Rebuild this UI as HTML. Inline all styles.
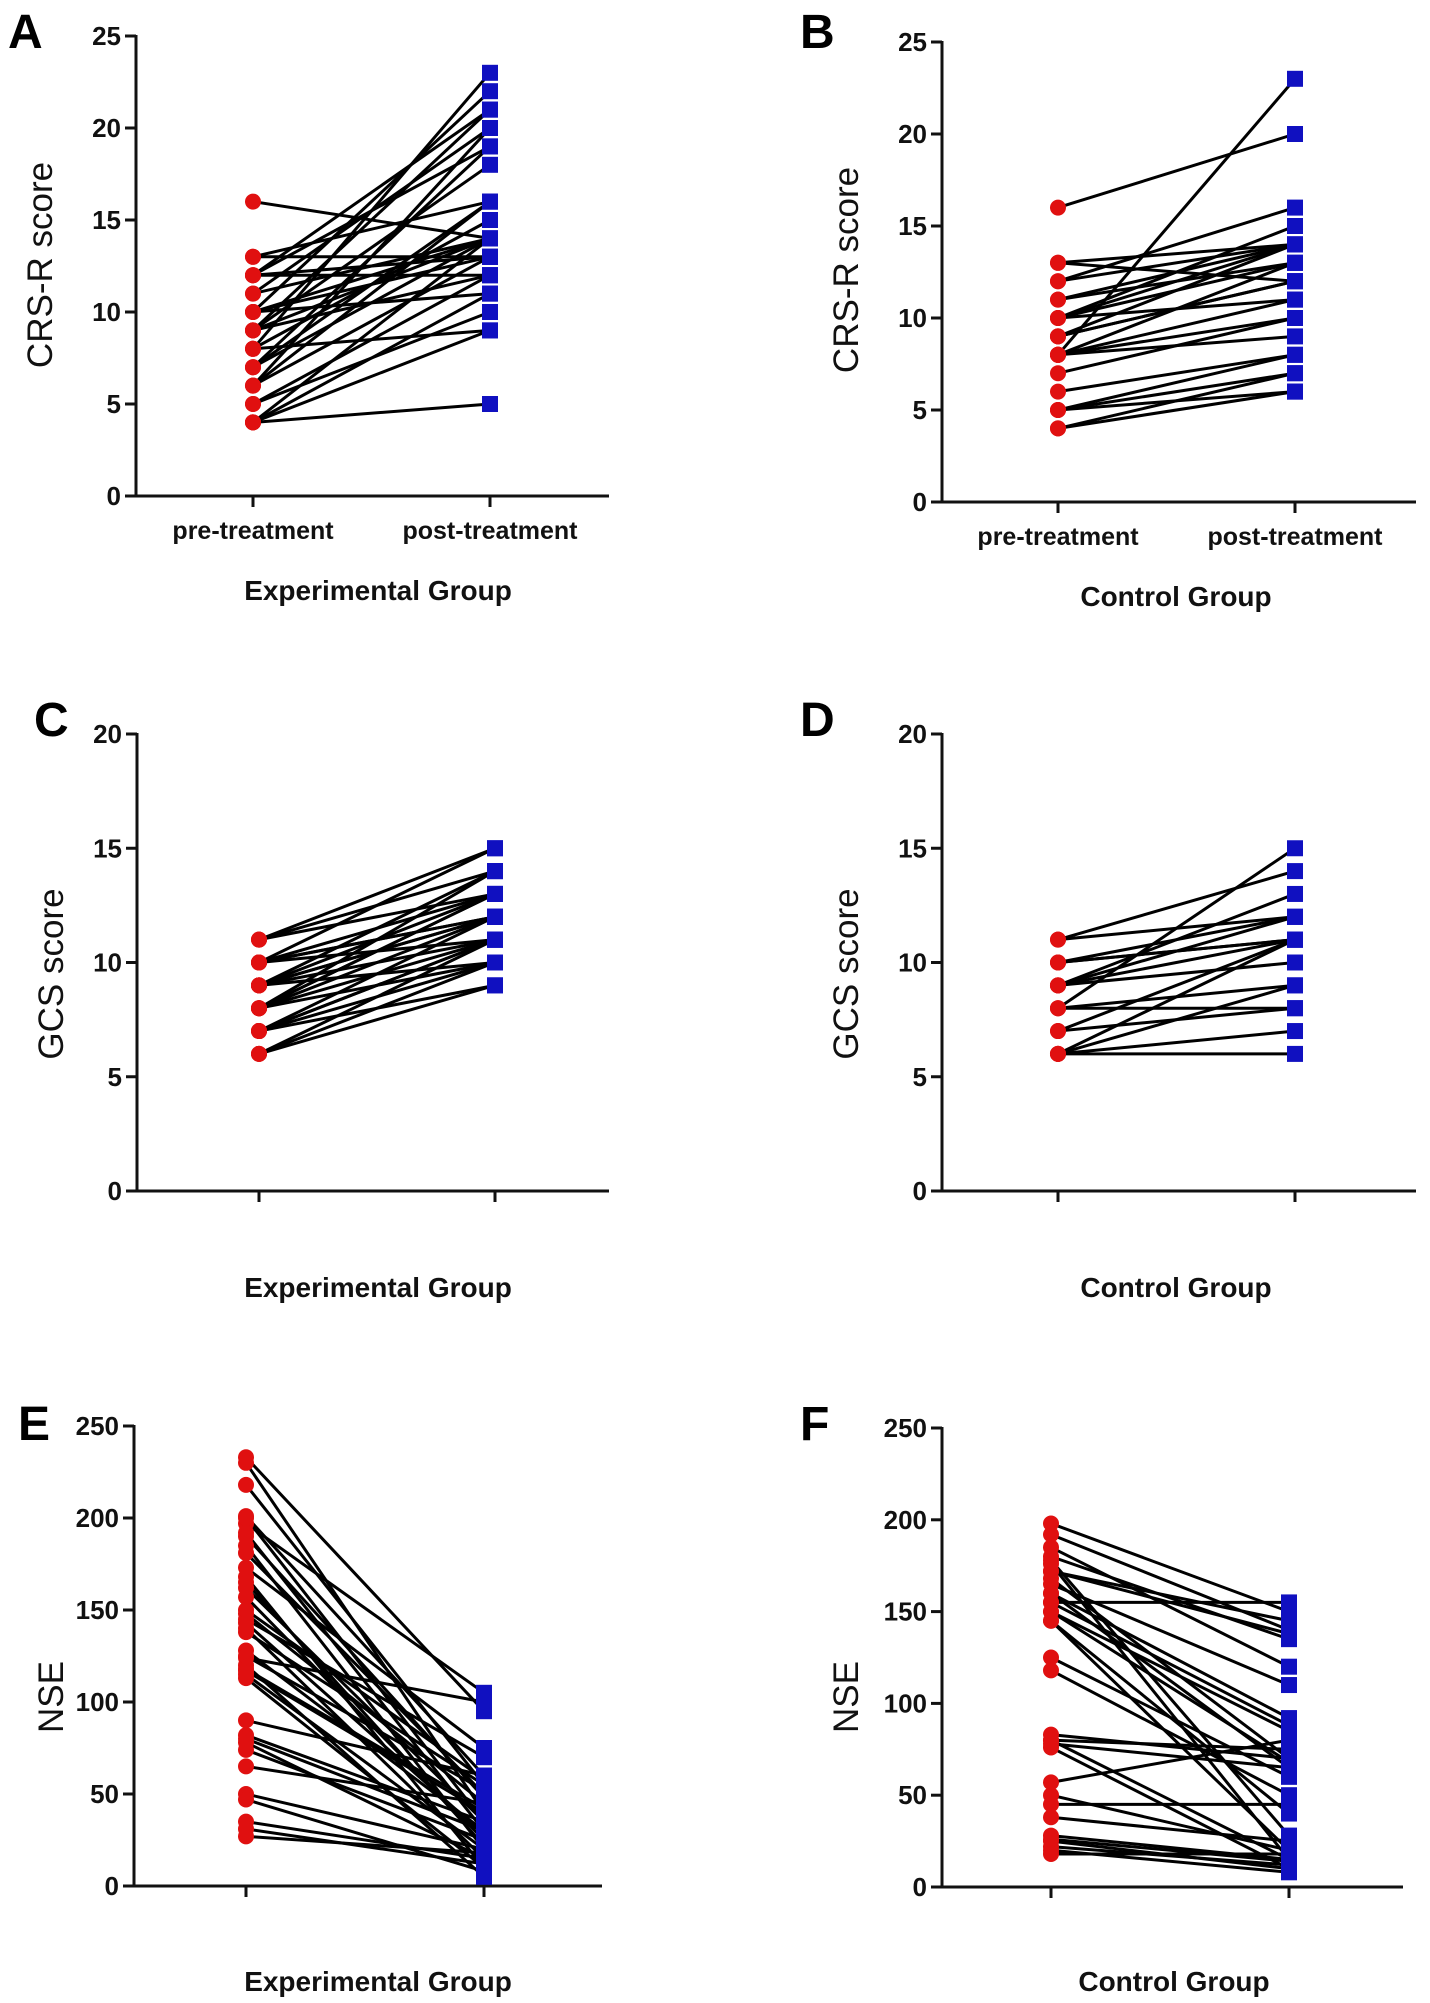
<!DOCTYPE html>
<html><head><meta charset="utf-8">
<style>
html,body{margin:0;padding:0;background:#fff;}
svg{display:block;font-family:"Liberation Sans",Arial,sans-serif;}
.tick{font-size:26px;font-weight:bold;fill:#111;}
.xl{font-size:25px;font-weight:bold;fill:#111;}
.grp{font-size:28px;font-weight:bold;fill:#111;}
.yl{font-size:35px;fill:#111;}
.let{font-size:48px;font-weight:bold;fill:#000;}
</style></head>
<body>
<svg id="fig" width="1430" height="2003" viewBox="0 0 1430 2003" xmlns="http://www.w3.org/2000/svg"></svg>
<script>
// Panel A - CRS-R experimental
const aPre  = [16,13,13,12,12,12,11,11,10,10,10,9,9,9,8,8,8,7,7,6,6,6,5,5,4,4,4,4,10,12,7,9];
const aPost = [14,13,16,12,19,13,14,20,22,11,14,21,18,12,23,9,15,14,19,13,20,16,12,10,5,9,11,14,13,21,16,14];
// Panel B - CRS-R control
const bPre  = [16,13,13,12,12,11,10,10,10,9,9,8,8,8,8,7,6,5,5,5,4,4,11,9,8,10];
const bPost = [20,14,12,16,14,13,15,13,11,14,12,23,11,9,10,10,8,8,7,6,6,7,14,12,13,14];
// Panel C - GCS experimental
const cPre  = [11,11,10,10,10,9,9,9,9,8,8,8,8,7,7,7,6,6,6,11,10,9,8,7,9,8,10,7];
const cPost = [15,14,13,12,15,13,12,11,14,12,11,10,13,11,10,9,10,9,11,13,11,12,14,12,10,13,12,11];
// Panel D - GCS control
const dPre  = [11,11,10,10,9,9,9,8,8,8,7,7,6,6,6,6,10,9];
const dPost = [14,12,11,12,13,11,10,15,9,8,8,11,6,7,9,11,11,12];
// Panel E - NSE experimental
const ePre  = [233,230,218,201,197,192,185,181,173,168,162,157,148,145,140,138,128,124,120,117,115,113,90,82,78,74,65,50,47,35,31,27,200,190,165,150,143,125,118,80];
const ePost = [95,40,55,60,105,30,20,50,75,10,35,25,45,70,15,55,30,100,5,40,20,10,60,35,15,25,45,20,8,15,12,18,35,48,22,58,28,52,42,30];
// Panel F - NSE control
const fPre  = [198,192,185,180,176,172,168,165,160,155,150,145,125,118,83,80,78,76,57,50,45,38,28,25,22,20,18,172,160,145,178,150,155,80,26];
const fPost = [150,140,120,135,15,145,70,110,65,155,85,20,60,50,70,15,65,10,80,20,45,25,15,10,12,8,18,138,92,40,28,68,88,75,14];
const crsTicks = [0,5,10,15,20,25];
const gcsTicks = [0,5,10,15,20];
const nseTicks = [0,50,100,150,200,250];
const catLabels = ["pre-treatment","post-treatment"];

const NS="http://www.w3.org/2000/svg";
const svg=document.getElementById('fig');
function mk(tag,attrs,parent){const e=document.createElementNS(NS,tag);for(const k in attrs)e.setAttribute(k,attrs[k]);(parent||svg).appendChild(e);return e;}

function panel(p){
  const g=mk('g',{});
  
  
  const ymax=p.ticks[p.ticks.length-1];
  const yS=v=>p.y0-(v/ymax)*(p.y0-p.yTop);
  const L=mk('text',{x:p.lx,y:p.ly,class:'let'},g);L.textContent=p.letter;
  
  
  const ya=mk('line',{x1:p.ax,y1:p.yTop-1,x2:p.ax,y2:p.y0,stroke:'#111','stroke-width':3},g);
  
  
  const xa=mk('line',{x1:p.ax-1,y1:p.y0,x2:p.xEnd,y2:p.y0,stroke:'#111','stroke-width':3},g);
  
  
  p.ticks.forEach(t=>{
    mk('line',{x1:p.ax-11,y1:yS(t),x2:p.ax,y2:yS(t),stroke:'#111','stroke-width':3},g);
    const tt=mk('text',{x:p.ax-15,y:yS(t)+9,class:'tick','text-anchor':'end'},g);tt.textContent=t;
    
    
  });
  [p.xPre,p.xPost].forEach((x,i)=>{
    mk('line',{x1:x,y1:p.y0,x2:x,y2:p.y0+11,stroke:'#111','stroke-width':3},g);
    if(p.cats){const c=mk('text',{x:x,y:p.y0+43,class:'xl','text-anchor':'middle'},g);c.textContent=catLabels[i];
      
      }
  });
  const gt=mk('text',{x:p.gx,y:p.gy,class:'grp','text-anchor':'middle'},g);gt.textContent=p.group;
  
  
  const yt=mk('text',{x:0,y:0,class:'yl','text-anchor':'middle',transform:`translate(${p.ylx},${p.yly}) rotate(-90)`},g);yt.textContent=p.ylabel;
  
  
  p.pre.forEach((v,i)=>{
    const l=mk('line',{x1:p.xPre,y1:yS(v),x2:p.xPost,y2:yS(p.post[i]),stroke:'#000','stroke-width':3},g);
    
    
  });
  p.pre.forEach(v=>{
    const c=mk('circle',{cx:p.xPre,cy:yS(v),r:8,fill:'#e01010'},g);
    
    
  });
  p.post.forEach(v=>{
    const r=mk('rect',{x:p.xPost-8,y:yS(v)-8,width:16,height:16,fill:'#1010c0'},g);
    
    
  });
}
panel({letter:'A',lx:8,ly:48,ax:136,yTop:36,y0:496,xEnd:609,xPre:253,xPost:490,ticks:crsTicks,pre:aPre,post:aPost,cats:true,group:'Experimental Group',gx:378,gy:600,ylabel:'CRS-R score',ylx:52,yly:265});
panel({letter:'B',lx:800,ly:48,ax:942,yTop:42,y0:502,xEnd:1416,xPre:1058,xPost:1295,ticks:crsTicks,pre:bPre,post:bPost,cats:true,group:'Control  Group',gx:1176,gy:606,ylabel:'CRS-R score',ylx:858,yly:270});
panel({letter:'C',lx:34,ly:736,ax:137,yTop:734,y0:1191,xEnd:609,xPre:259,xPost:495,ticks:gcsTicks,pre:cPre,post:cPost,cats:false,group:'Experimental  Group',gx:378,gy:1297,ylabel:'GCS score',ylx:63,yly:974});
panel({letter:'D',lx:800,ly:736,ax:942,yTop:734,y0:1191,xEnd:1416,xPre:1058,xPost:1295,ticks:gcsTicks,pre:dPre,post:dPost,cats:false,group:'Control  Group',gx:1176,gy:1297,ylabel:'GCS score',ylx:858,yly:974});
panel({letter:'E',lx:18,ly:1440,ax:134,yTop:1426,y0:1886,xEnd:602,xPre:246,xPost:484,ticks:nseTicks,pre:ePre,post:ePost,cats:false,group:'Experimental  Group',gx:378,gy:1991,ylabel:'NSE',ylx:63,yly:1697});
panel({letter:'F',lx:800,ly:1440,ax:942,yTop:1428,y0:1887,xEnd:1403,xPre:1051,xPost:1289,ticks:nseTicks,pre:fPre,post:fPost,cats:false,group:'Control  Group',gx:1174,gy:1991,ylabel:'NSE',ylx:858,yly:1697});
</script>
</body></html>
